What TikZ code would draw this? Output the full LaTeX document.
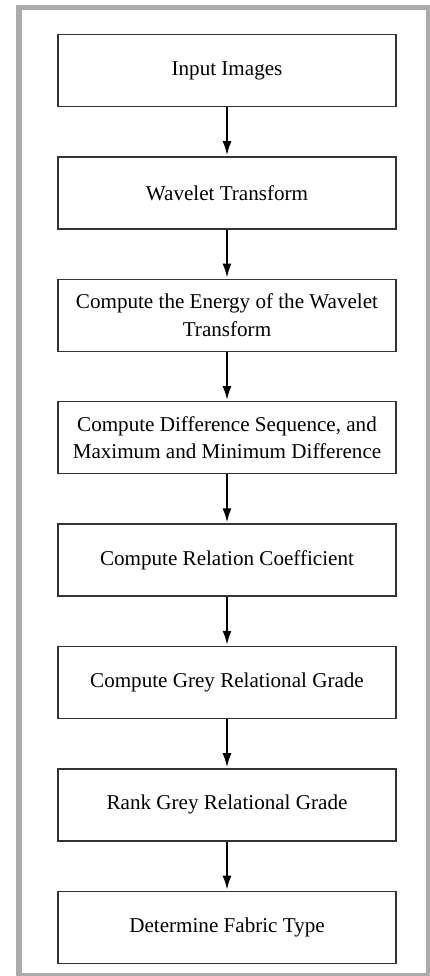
\documentclass[tikz,border=0pt]{standalone}
\usepackage{fontspec}
\setmainfont{Liberation Serif}
\usetikzlibrary{arrows.meta,positioning}

\definecolor{framegray}{HTML}{ABABAB}
\definecolor{boxline}{HTML}{333333}

\tikzset{
  stage/.style={draw=boxline,line width=1.4pt,minimum width=338pt,
    minimum height=72pt,align=center,font=\fontsize{21.1}{27.5}\selectfont,
    inner sep=0pt},
  flow/.style={line width=2.8pt,-{Latex[length=15pt,width=9pt]}}
}

\begin{document}
\begin{tikzpicture}[x=1pt,y=1pt,node distance=49pt]
  \useasboundingbox (0,0) rectangle (430,-976);
  % outer frame
  \begin{scope}
    \clip (0,0) rectangle (430,-976);
    \draw[framegray,line width=5.5pt] (19,-7.5) rectangle (429,-975.5);
  \end{scope}
  % processing stages
  \node[stage] (input) at (227,-70.5) {Input Images};
  \node[stage,below=of input] (wavelet) {Wavelet Transform};
  \node[stage,below=of wavelet] (energy) {Compute the Energy of the Wavelet\\Transform};
  \node[stage,below=of energy] (diff) {Compute Difference Sequence, and\\Maximum and Minimum Difference};
  \node[stage,below=of diff] (coeff) {Compute Relation Coefficient};
  \node[stage,below=of coeff] (grade) {Compute Grey Relational Grade};
  \node[stage,below=of grade] (rank) {Rank Grey Relational Grade};
  \node[stage,below=of rank] (fabric) {Determine Fabric Type};
  % arrows between stages
  \foreach \a/\b in {input/wavelet,wavelet/energy,energy/diff,diff/coeff,
                     coeff/grade,grade/rank,rank/fabric}
    \draw[flow] (\a) -- (\b);
\end{tikzpicture}
\end{document}
